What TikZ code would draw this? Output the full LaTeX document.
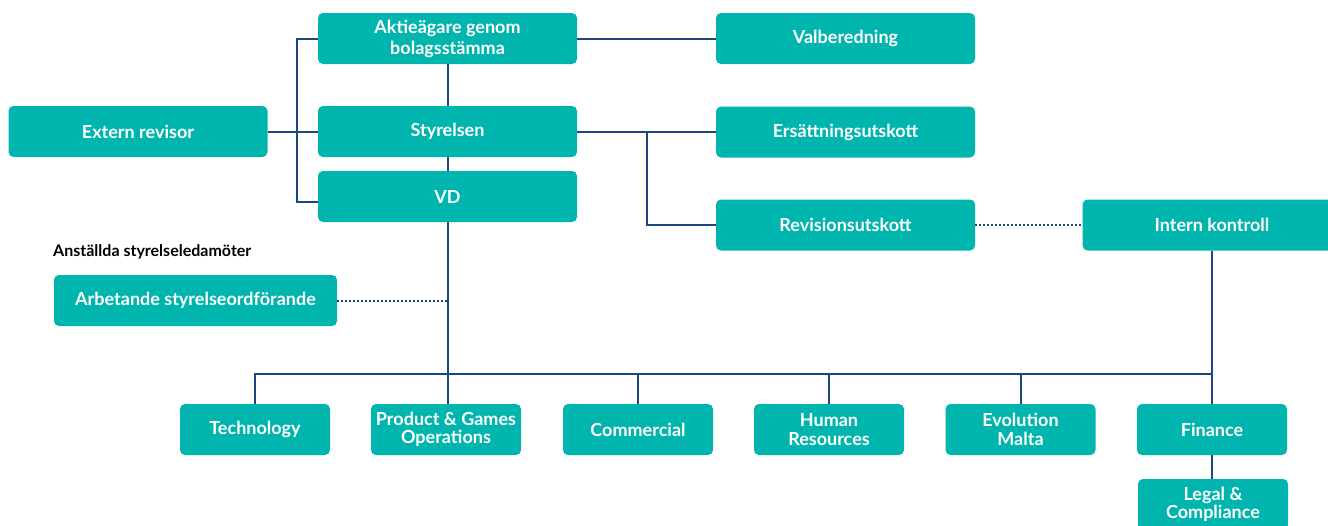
\documentclass[tikz,border=0pt]{standalone}
\usepackage{fontspec}
\setmainfont{Lato}
\usetikzlibrary{positioning, calc}
\definecolor{tealbox}{RGB}{0, 181, 173}
\definecolor{linkblue}{RGB}{28, 72, 128}
\begin{document}
\begin{tikzpicture}[x=1pt, y=-1pt,
    box/.style={rectangle, rounded corners=5pt, fill=tealbox, text=white,
                minimum width=259pt, minimum height=51pt, inner sep=0pt,
                align=center, font=\fontsize{18}{21}\selectfont\bfseries},
    unit/.style={box, minimum width=150pt, font=\fontsize{18}{18.5}\selectfont\bfseries},
    note/.style={font=\fontsize{16}{18}\selectfont\bfseries, text=black, inner sep=0pt},
    link/.style={draw=linkblue, line width=2pt},
    dotlink/.style={draw=linkblue, line width=2pt, dash pattern=on 1.5pt off 2.5pt}
]
\useasboundingbox (0,0) rectangle (1328,525);

\node[box] (AGM) at (447.5, 38.5)  {Aktieägare genom\\bolagsstämma};
\node[box] (VAL) at (845.5, 38.5)  {Valberedning};
\node[box] (EXT) at (138,   131.5) {Extern revisor};
\node[box] (STY) at (447.5, 131.5) {Styrelsen};
\node[box] (ERS) at (845.5, 132)   {Ersättningsutskott};
\node[box] (VD)  at (447.5, 196.5) {VD};
\node[box] (REV) at (845.5, 225)   {Revisionsutskott};
\node[box] (INT) at (1212,  225)   {Intern kontroll};

\node[note, anchor=west] (ANS) at (53, 252) {Anställda styrelseledamöter};
\node[box, minimum width=283pt] (ARB) at (195.5, 300.5) {Arbetande styrelseordförande};

\node[unit] (TEC) at (255,    429.5) {Technology};
\node[unit] (PGO) at (446,    429.5) {Product \& Games\\Operations};
\node[unit] (COM) at (638,    429.5) {Commercial};
\node[unit] (HR)  at (829,    429.5) {Human\\Resources};
\node[unit] (EVM) at (1020.5, 429.5) {Evolution\\Malta};
\node[unit] (FIN) at (1212,   429.5) {Finance};
\node[unit] (LEG) at (1213,   504.5) {Legal \&\\Compliance};

\draw[link] (AGM) -- (VAL);
\draw[link] (AGM) -- (STY);
\draw[link] (STY) -- (VD);
\draw[link] (EXT) -- (STY);
\draw[link] (AGM.west) -- ++(-21,0) |- ([yshift=-5pt]VD.west);
\draw[link] (STY.east) -- (ERS.west |- STY.east);
\coordinate (br) at (647, 131.5);
\draw[link] (br) |- (REV.west);
\draw[dotlink] (REV) -- (INT);
\draw[dotlink] (ARB.east) -- (ARB.east -| VD.south);

\draw[link] (VD.south) -- (VD.south |- PGO.north);
\draw[link] (INT) -- (FIN);
\draw[link] (TEC.north) -- ++(0,-30) -| (FIN.north);
\foreach \u in {COM, HR, EVM}
  \draw[link] (\u.north) -- ++(0,-30);
\draw[link] (FIN.south) -- (FIN.south |- LEG.north);

\end{tikzpicture}
\end{document}
